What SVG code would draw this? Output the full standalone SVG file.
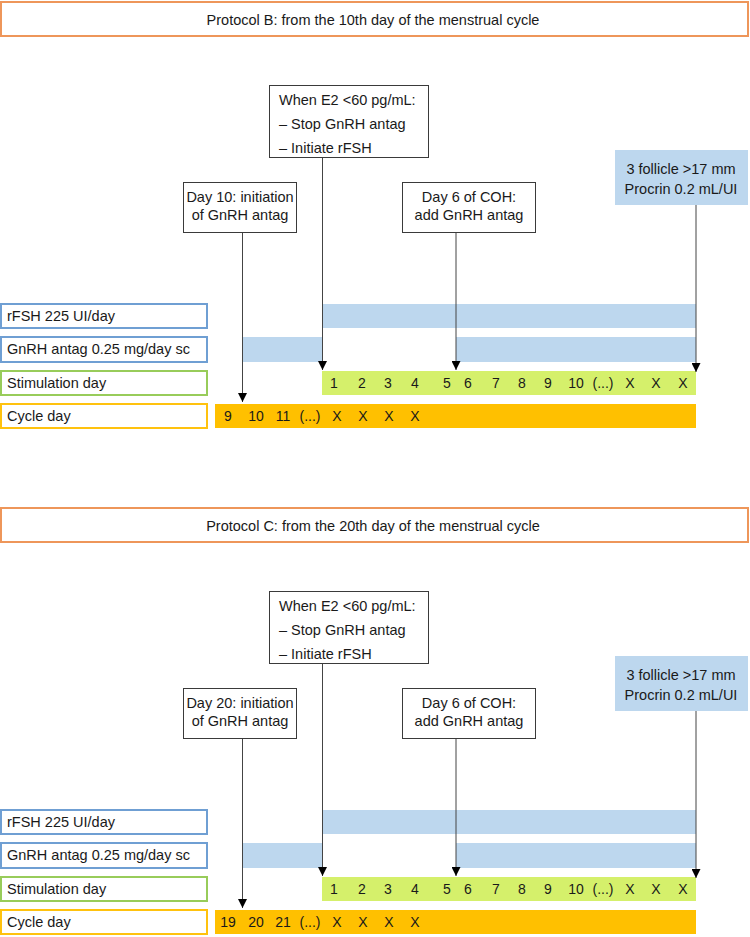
<svg xmlns="http://www.w3.org/2000/svg" width="750" height="937" viewBox="0 0 750 937">
<defs>
<style>
text{font-family:"Liberation Sans",Arial,sans-serif;fill:#1a1a1a}
.hdr{fill:#fff;stroke:#EE965A;stroke-width:2}
.ht{font-size:14.5px;text-anchor:middle}
.lb{fill:#fff;stroke-width:2}
.blue{stroke:#6F9FD3}
.green{stroke:#98CC5A}
.yel{stroke:#FFC20E}
.lt{font-size:14.5px}
.box{fill:#fff;stroke:#3a3a3a;stroke-width:1}
.ct{font-size:14.5px;text-anchor:middle}
.cl{font-size:14.5px}
.bbar{fill:#BDD7EE}
.sbar{fill:#D5F06B}
.cbar{fill:#FFC000}
.num{font-size:14px;text-anchor:middle}
.conn{stroke:#444;stroke-width:1;fill:none;marker-end:url(#ah)}
</style>
<marker id="ah" viewBox="0 0 10 10" refX="10" refY="5" markerWidth="9" markerHeight="9" markerUnits="userSpaceOnUse" orient="auto">
<path d="M0,0 L10,5 L0,10 z" fill="#000"/>
</marker>
</defs>

<!-- Protocol B -->
<g id="B-header"><rect class="hdr" x="1" y="2" width="747" height="34"/><text class="ht" x="373" y="25">Protocol B: from the 10th day of the menstrual cycle</text></g>
<g id="B-when"><rect class="box" x="269.5" y="85.5" width="159" height="72"/><text class="cl" x="279" y="105">When E2 &lt;60 pg/mL:</text><text class="cl" x="279" y="129">– Stop GnRH antag</text><text class="cl" x="279" y="153">– Initiate rFSH</text></g>
<g id="B-day10"><rect class="box" x="183.5" y="182.5" width="113" height="50"/><text class="ct" x="240" y="202">Day 10: initiation</text><text class="ct" x="240" y="220">of GnRH antag</text></g>
<g id="B-day6"><rect class="box" x="402.5" y="182.5" width="133" height="50"/><text class="ct" x="469" y="202">Day 6 of COH:</text><text class="ct" x="469" y="220">add GnRH antag</text></g>
<g id="B-foll"><rect class="bbar" x="615" y="150" width="133" height="55"/><text class="ct" x="681" y="174">3 follicle &gt;17 mm</text><text class="ct" x="681" y="194">Procrin 0.2 mL/UI</text></g>
<g id="B-rfsh"><rect class="lb blue" x="1" y="304" width="206" height="24"/><text class="lt" x="7" y="321">rFSH 225 UI/day</text><rect class="bbar" x="322" y="304" width="374" height="24"/></g>
<g id="B-gnrh"><rect class="lb blue" x="1" y="337" width="206" height="25"/><text class="lt" x="7" y="354">GnRH antag 0.25 mg/day sc</text><rect class="bbar" x="243" y="337" width="79" height="25"/><rect class="bbar" x="456" y="337" width="240" height="25"/></g>
<g id="B-stim"><rect class="lb green" x="1" y="371" width="206" height="24"/><text class="lt" x="7" y="388">Stimulation day</text><rect class="sbar" x="322" y="371" width="374" height="24"/>
<text class="num" y="388"><tspan x="334">1</tspan><tspan x="362">2</tspan><tspan x="388">3</tspan><tspan x="415">4</tspan><tspan x="447">5</tspan><tspan x="468">6</tspan><tspan x="496">7</tspan><tspan x="522">8</tspan><tspan x="548">9</tspan><tspan x="576">10</tspan><tspan x="603">(...)</tspan><tspan x="630">X</tspan><tspan x="656">X</tspan><tspan x="683">X</tspan></text></g>
<g id="B-cycle"><rect class="lb yel" x="1" y="404" width="206" height="24"/><text class="lt" x="7" y="421">Cycle day</text><rect class="cbar" x="215" y="404" width="481" height="24"/>
<text class="num" y="421"><tspan x="228">9</tspan><tspan x="256">10</tspan><tspan x="283">11</tspan><tspan x="310">(...)</tspan><tspan x="337">X</tspan><tspan x="363">X</tspan><tspan x="389">X</tspan><tspan x="415">X</tspan></text></g>

<!-- Protocol C -->
<g id="C-header"><rect class="hdr" x="1" y="508" width="747" height="34"/><text class="ht" x="373" y="531">Protocol C: from the 20th day of the menstrual cycle</text></g>
<g id="C-when"><rect class="box" x="269.5" y="591.5" width="159" height="72"/><text class="cl" x="279" y="611">When E2 &lt;60 pg/mL:</text><text class="cl" x="279" y="635">– Stop GnRH antag</text><text class="cl" x="279" y="659">– Initiate rFSH</text></g>
<g id="C-day20"><rect class="box" x="183.5" y="688.5" width="113" height="50"/><text class="ct" x="240" y="708">Day 20: initiation</text><text class="ct" x="240" y="726">of GnRH antag</text></g>
<g id="C-day6"><rect class="box" x="402.5" y="688.5" width="133" height="50"/><text class="ct" x="469" y="708">Day 6 of COH:</text><text class="ct" x="469" y="726">add GnRH antag</text></g>
<g id="C-foll"><rect class="bbar" x="615" y="656" width="133" height="55"/><text class="ct" x="681" y="680">3 follicle &gt;17 mm</text><text class="ct" x="681" y="700">Procrin 0.2 mL/UI</text></g>
<g id="C-rfsh"><rect class="lb blue" x="1" y="810" width="206" height="24"/><text class="lt" x="7" y="827">rFSH 225 UI/day</text><rect class="bbar" x="322" y="810" width="374" height="24"/></g>
<g id="C-gnrh"><rect class="lb blue" x="1" y="843" width="206" height="25"/><text class="lt" x="7" y="860">GnRH antag 0.25 mg/day sc</text><rect class="bbar" x="243" y="843" width="79" height="25"/><rect class="bbar" x="456" y="843" width="240" height="25"/></g>
<g id="C-stim"><rect class="lb green" x="1" y="877" width="206" height="24"/><text class="lt" x="7" y="894">Stimulation day</text><rect class="sbar" x="322" y="877" width="374" height="24"/>
<text class="num" y="894"><tspan x="334">1</tspan><tspan x="362">2</tspan><tspan x="388">3</tspan><tspan x="415">4</tspan><tspan x="447">5</tspan><tspan x="468">6</tspan><tspan x="496">7</tspan><tspan x="522">8</tspan><tspan x="548">9</tspan><tspan x="576">10</tspan><tspan x="603">(...)</tspan><tspan x="630">X</tspan><tspan x="656">X</tspan><tspan x="683">X</tspan></text></g>
<g id="C-cycle"><rect class="lb yel" x="1" y="910" width="206" height="24"/><text class="lt" x="7" y="927">Cycle day</text><rect class="cbar" x="215" y="910" width="481" height="24"/>
<text class="num" y="927"><tspan x="228">19</tspan><tspan x="256">20</tspan><tspan x="283">21</tspan><tspan x="310">(...)</tspan><tspan x="337">X</tspan><tspan x="363">X</tspan><tspan x="389">X</tspan><tspan x="415">X</tspan></text></g>

<g id="connectors">
<line class="conn" x1="242.5" y1="233" x2="242.5" y2="402"/>
<line class="conn" x1="322.5" y1="158" x2="322.5" y2="370"/>
<line class="conn" x1="456" y1="233" x2="456" y2="370"/>
<line class="conn" x1="696" y1="205" x2="696" y2="372"/>
<line class="conn" x1="242.5" y1="739" x2="242.5" y2="908"/>
<line class="conn" x1="322.5" y1="664" x2="322.5" y2="876"/>
<line class="conn" x1="456" y1="739" x2="456" y2="876"/>
<line class="conn" x1="696" y1="711" x2="696" y2="878"/>
</g>
</svg>
